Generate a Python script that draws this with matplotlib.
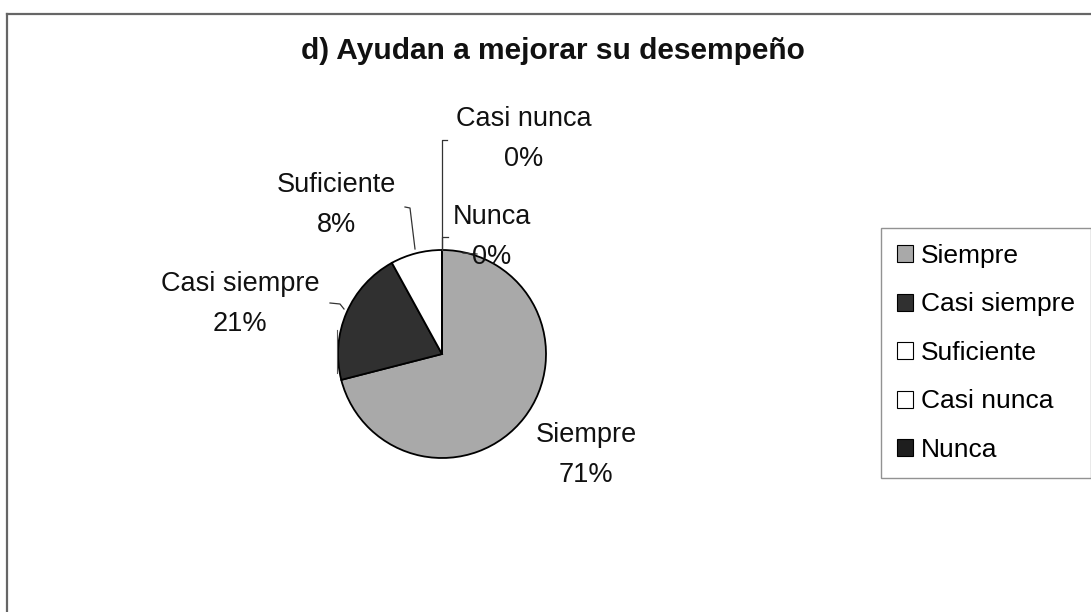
import matplotlib.pyplot as plt
from matplotlib.patches import Patch

categories = ["Siempre", "Casi siempre", "Suficiente", "Casi nunca", "Nunca"]
values = [71, 21, 8, 0, 0]
colors = ["#a9a9a9", "#303030", "#ffffff", "#ffffff", "#1e1e1e"]
title = "d) Ayudan a mejorar su desempeño"

plt.rcParams["font.family"] = ["Liberation Sans", "DejaVu Sans"]

W, H = 1091, 612
fig = plt.figure(figsize=(W / 100, H / 100), dpi=100)
ax = fig.add_axes([0, 0, 1, 1])

# chart frame (top and left edges visible)
ax.plot([7, W], [H - 14, H - 14], color="#666666", lw=1.6)
ax.plot([7, 7], [H - 14, 0], color="#666666", lw=1.6)

cx, cy, r = 442, H - 354, 104
ax.pie(values, colors=colors, startangle=90, counterclock=False,
       center=(cx, cy), radius=r, frame=True,
       wedgeprops=dict(edgecolor="black", linewidth=1.3))
ax.set_xlim(0, W)
ax.set_ylim(0, H)
ax.set_aspect("equal")
ax.axis("off")

total = sum(values)
pct = [f"{round(100 * v / total)}%" for v in values]

# label positions (pixel coords from top)
label_pos = {
    "Siempre": (586, 455),
    "Casi siempre": (240, 304),
    "Suficiente": (336, 205),
    "Casi nunca": (524, 139),
    "Nunca": (492, 237),
}
for cat, p in zip(categories, pct):
    x, y = label_pos[cat]
    ax.text(x, H - y, f"{cat}\n{p}", ha="center", va="center",
            fontsize=19.5, linespacing=1.7, color="#111111")

# leader lines
lc = dict(color="#333333", lw=0.9)
ax.plot([442, 442, 447], [H - 250, H - 140, H - 140], **lc)
ax.plot([415, 410, 405], [H - 249, H - 208, H - 207], **lc)
ax.plot([330, 340, 344], [H - 303, H - 304, H - 309], **lc)
ax.plot([442, 442, 448], [H - 250, H - 237, H - 237], **lc)
ax.plot([463, 477], [H - 253, H - 254], **lc)
ax.plot([337, 337], [H - 330, H - 373], color="#555555", lw=0.8)

handles = [Patch(facecolor=c, edgecolor="black", linewidth=0.8) for c in colors]
leg = ax.legend(handles, categories, loc="upper left",
                bbox_to_anchor=(881 / W, 1 - 228 / H), fontsize=19,
                frameon=True, fancybox=False, edgecolor="#777777",
                handlelength=0.62, handleheight=0.62, handletextpad=0.3,
                labelspacing=0.93, borderpad=0.6, borderaxespad=0)
leg.get_frame().set_linewidth(1.0)

ax.text(553, H - 51, title, ha="center", va="center", fontsize=21.5,
        fontweight="bold", color="#111111")

fig.savefig("out.png", dpi=100, facecolor="white")
